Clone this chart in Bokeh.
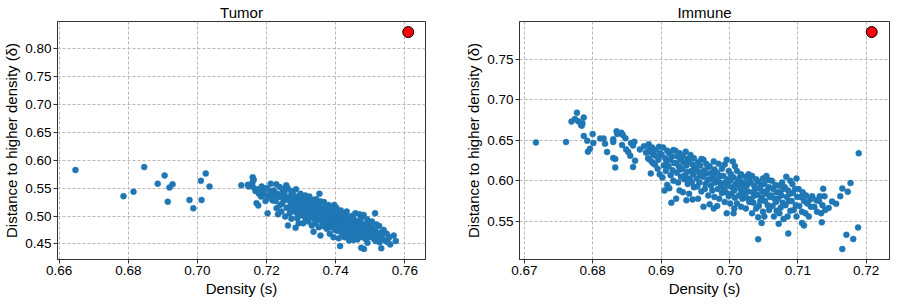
from bokeh.plotting import figure
from bokeh.layouts import row
from bokeh.models import Range1d, FixedTicker, NumeralTickFormatter, ColumnDataSource
from bokeh.embed import file_html
from bokeh.resources import INLINE

# ---------------- data ----------------
panel_titles = ["Tumor", "Immune"]
x_label = "Density (s)"
y_label = "Distance to higher density (δ)"

tumor_density = [
    0.6647, 0.6786, 0.6815, 0.6846, 0.6885, 0.6905, 0.6914, 0.6919, 0.6928, 0.6977,
    0.6988, 0.7010, 0.7012, 0.7024, 0.7035, 0.7127, 0.7146, 0.7148, 0.7160, 0.7159,
    0.7163, 0.7174, 0.7168, 0.7178, 0.7161, 0.7171, 0.7176,
    0.7186, 0.7199, 0.7189, 0.7193, 0.7184, 0.7197, 0.7187,
    0.7212, 0.7202, 0.7215, 0.7210, 0.7205, 0.7218, 0.7203, 0.7214,
    0.7228, 0.7238, 0.7221, 0.7231, 0.7236, 0.7226, 0.7239, 0.7229, 0.7233, 0.7224,
    0.7257, 0.7247, 0.7252, 0.7242, 0.7255, 0.7250, 0.7245, 0.7258, 0.7243, 0.7254, 0.7248, 0.7258,
    0.7261, 0.7271, 0.7276, 0.7266, 0.7279, 0.7269, 0.7273, 0.7264, 0.7277, 0.7267, 0.7272, 0.7262, 0.7275, 0.7270,
    0.7285, 0.7298, 0.7283, 0.7294, 0.7288, 0.7298, 0.7281, 0.7291, 0.7296, 0.7286, 0.7299, 0.7289, 0.7293, 0.7284, 0.7297, 0.7287,
    0.7312, 0.7302, 0.7315, 0.7310, 0.7305, 0.7318, 0.7303, 0.7314, 0.7308, 0.7318, 0.7301, 0.7311, 0.7316, 0.7306, 0.7319, 0.7309, 0.7313,
    0.7324, 0.7337, 0.7327, 0.7332, 0.7322, 0.7335, 0.7330, 0.7325, 0.7338, 0.7323, 0.7334, 0.7328, 0.7338, 0.7321, 0.7331, 0.7336, 0.7326, 0.7339, 0.7329,
    0.7353, 0.7344, 0.7357, 0.7347, 0.7352, 0.7342, 0.7355, 0.7350, 0.7345, 0.7358, 0.7343, 0.7354, 0.7348, 0.7358, 0.7341, 0.7351, 0.7356, 0.7346, 0.7359, 0.7349,
    0.7366, 0.7379, 0.7369, 0.7373, 0.7364, 0.7377, 0.7367, 0.7372, 0.7362, 0.7375, 0.7370, 0.7365, 0.7378, 0.7363, 0.7374, 0.7368, 0.7378, 0.7361, 0.7371,
    0.7396, 0.7386, 0.7399, 0.7389, 0.7393, 0.7384, 0.7397, 0.7387, 0.7392, 0.7382, 0.7395, 0.7390, 0.7385, 0.7398, 0.7383, 0.7394, 0.7388, 0.7398, 0.7381, 0.7391,
    0.7402, 0.7415, 0.7410, 0.7405, 0.7418, 0.7403, 0.7414, 0.7408, 0.7418, 0.7401, 0.7411, 0.7416, 0.7406, 0.7419, 0.7409, 0.7413, 0.7404, 0.7417, 0.7407,
    0.7432, 0.7422, 0.7435, 0.7430, 0.7425, 0.7438, 0.7423, 0.7434, 0.7428, 0.7438, 0.7421, 0.7431, 0.7436, 0.7426, 0.7439, 0.7429, 0.7433, 0.7424,
    0.7457, 0.7447, 0.7452, 0.7442, 0.7455, 0.7450, 0.7445, 0.7458, 0.7443, 0.7454, 0.7448, 0.7458, 0.7441, 0.7451, 0.7456, 0.7446, 0.7459,
    0.7469, 0.7473, 0.7464, 0.7477, 0.7467, 0.7472, 0.7462, 0.7475, 0.7470, 0.7465, 0.7478, 0.7463, 0.7474, 0.7468, 0.7478,
    0.7481, 0.7491, 0.7496, 0.7486, 0.7499, 0.7489, 0.7493, 0.7484, 0.7497, 0.7487, 0.7492, 0.7482, 0.7495, 0.7490,
    0.7505, 0.7518, 0.7503, 0.7514, 0.7508, 0.7518, 0.7501, 0.7511, 0.7516, 0.7514, 0.7506,
    0.7526, 0.7539, 0.7529, 0.7533, 0.7524, 0.7537, 0.7527, 0.7532,
    0.7548, 0.7555, 0.7546, 0.7558, 0.7551,
    0.7568, 0.7574,
]
tumor_delta = [
    0.5826, 0.5356, 0.5436, 0.5878, 0.5580, 0.5728, 0.5258, 0.5511, 0.5568, 0.5287,
    0.5138, 0.5632, 0.5287, 0.5763, 0.5528, 0.5550, 0.5560, 0.5530, 0.5694, 0.5600,
    0.565, 0.548, 0.545, 0.540, 0.552, 0.523, 0.519,
    0.553, 0.550, 0.545, 0.538, 0.535, 0.527, 0.542,
    0.558, 0.549, 0.545, 0.540, 0.536, 0.528, 0.505, 0.531,
    0.557, 0.552, 0.546, 0.540, 0.534, 0.527, 0.520, 0.514, 0.503, 0.538,
    0.555, 0.548, 0.543, 0.539, 0.533, 0.528, 0.522, 0.515, 0.508, 0.499, 0.537, 0.530,
    0.550, 0.545, 0.540, 0.535, 0.530, 0.525, 0.520, 0.515, 0.510, 0.505, 0.495, 0.483, 0.527, 0.512,
    0.548, 0.540, 0.535, 0.530, 0.526, 0.522, 0.518, 0.514, 0.510, 0.506, 0.502, 0.496, 0.487, 0.479, 0.520, 0.508,
    0.537, 0.532, 0.528, 0.524, 0.520, 0.517, 0.514, 0.511, 0.508, 0.505, 0.502, 0.498, 0.494, 0.487, 0.525, 0.515, 0.509,
    0.535, 0.529, 0.525, 0.522, 0.519, 0.516, 0.513, 0.510, 0.507, 0.504, 0.501, 0.498, 0.495, 0.490, 0.483, 0.472, 0.520, 0.512, 0.505,
    0.540, 0.530, 0.526, 0.522, 0.518, 0.515, 0.512, 0.509, 0.506, 0.503, 0.500, 0.497, 0.494, 0.491, 0.487, 0.480, 0.465, 0.515, 0.508, 0.502,
    0.525, 0.520, 0.516, 0.513, 0.510, 0.507, 0.504, 0.501, 0.498, 0.495, 0.492, 0.489, 0.486, 0.482, 0.477, 0.510, 0.503, 0.497, 0.490,
    0.520, 0.515, 0.511, 0.508, 0.505, 0.502, 0.499, 0.496, 0.493, 0.490, 0.487, 0.484, 0.480, 0.475, 0.468, 0.462, 0.505, 0.498, 0.491, 0.485,
    0.515, 0.510, 0.505, 0.501, 0.498, 0.495, 0.492, 0.489, 0.486, 0.483, 0.480, 0.477, 0.473, 0.468, 0.460, 0.446, 0.494, 0.488, 0.481,
    0.508, 0.503, 0.499, 0.495, 0.492, 0.489, 0.486, 0.483, 0.480, 0.477, 0.474, 0.471, 0.467, 0.462, 0.456, 0.490, 0.484, 0.478,
    0.505, 0.500, 0.495, 0.491, 0.487, 0.484, 0.481, 0.478, 0.475, 0.472, 0.469, 0.466, 0.462, 0.457, 0.486, 0.479, 0.473,
    0.503, 0.496, 0.490, 0.486, 0.482, 0.478, 0.475, 0.472, 0.469, 0.466, 0.462, 0.458, 0.443, 0.480, 0.470,
    0.502, 0.494, 0.488, 0.483, 0.479, 0.475, 0.471, 0.467, 0.463, 0.459, 0.452, 0.441, 0.476, 0.468,
    0.490, 0.485, 0.480, 0.475, 0.471, 0.467, 0.463, 0.459, 0.455, 0.505, 0.472,
    0.482, 0.475, 0.470, 0.466, 0.462, 0.458, 0.453, 0.442,
    0.468, 0.462, 0.455, 0.449, 0.453,
    0.465, 0.455,
]

immune_density = [
    0.6717, 0.6761, 0.6769, 0.6777, 0.6774, 0.6779, 0.6783, 0.6785, 0.6787, 0.6784,
    0.6787, 0.6792, 0.6793, 0.6796, 0.6800, 0.6801, 0.6811, 0.6816, 0.6818, 0.6821,
    0.6830, 0.6830, 0.6830, 0.6833, 0.6833, 0.6835, 0.6836, 0.6842, 0.6844, 0.6848,
    0.6843, 0.6849, 0.6852, 0.6855, 0.6856, 0.6859, 0.6861, 0.6859, 0.6862, 0.6869,
    0.6875, 0.6878, 0.6883, 0.6882, 0.6885,
    0.6882, 0.6887, 0.6884, 0.6889, 0.6881, 0.6886, 0.6888,
    0.6897, 0.6892, 0.6899, 0.6894, 0.6896, 0.6891, 0.6898, 0.6895,
    0.6903, 0.6909, 0.6901, 0.6906, 0.6908, 0.6904, 0.6907, 0.6902, 0.6909, 0.6905,
    0.6918, 0.6912, 0.6916, 0.6913, 0.6919, 0.6911, 0.6917, 0.6914, 0.6918, 0.6915, 0.6912,
    0.6921, 0.6927, 0.6924, 0.6929, 0.6922, 0.6926, 0.6928, 0.6923, 0.6929, 0.6925, 0.6927, 0.6922,
    0.6936, 0.6932, 0.6939, 0.6933, 0.6937, 0.6931, 0.6938, 0.6935, 0.6934, 0.6939, 0.6932, 0.6937,
    0.6943, 0.6948, 0.6941, 0.6946, 0.6949, 0.6944, 0.6947, 0.6942, 0.6945, 0.6948, 0.6941, 0.6946,
    0.6959, 0.6954, 0.6957, 0.6951, 0.6955, 0.6958, 0.6952, 0.6956, 0.6953, 0.6959, 0.6954,
    0.6962, 0.6966, 0.6969, 0.6963, 0.6967, 0.6961, 0.6968, 0.6965, 0.6964, 0.6969, 0.6962,
    0.6977, 0.6971, 0.6978, 0.6974, 0.6976, 0.6972, 0.6979, 0.6973, 0.6975, 0.6978, 0.6971, 0.6977,
    0.6984, 0.6989, 0.6982, 0.6987, 0.6981, 0.6986, 0.6988, 0.6983, 0.6989, 0.6985, 0.6982,
    0.6996, 0.6993, 0.6999, 0.6991, 0.6997, 0.6994, 0.6998, 0.6992, 0.6995, 0.6999, 0.6993, 0.6996,
    0.7005, 0.7008, 0.7002, 0.7006, 0.7001, 0.7009, 0.7004, 0.7007, 0.7003, 0.7008, 0.7001, 0.7006, 0.7007,
    0.7011, 0.7017, 0.7015, 0.7013, 0.7019, 0.7012, 0.7016, 0.7018, 0.7014, 0.7019, 0.7011, 0.7017,
    0.7028, 0.7024, 0.7029, 0.7021, 0.7026, 0.7023, 0.7027, 0.7022, 0.7025, 0.7029, 0.7024,
    0.7033, 0.7039, 0.7031, 0.7036, 0.7038, 0.7034, 0.7037, 0.7032, 0.7035, 0.7039, 0.7033,
    0.7049, 0.7042, 0.7046, 0.7044, 0.7048, 0.7041, 0.7047, 0.7045, 0.7043, 0.7049, 0.7042, 0.7042,
    0.7054, 0.7057, 0.7051, 0.7058, 0.7055, 0.7053, 0.7059, 0.7052, 0.7056, 0.7058, 0.7051, 0.7047,
    0.7062, 0.7067, 0.7064, 0.7069, 0.7061, 0.7066, 0.7068, 0.7063, 0.7069, 0.7065,
    0.7077, 0.7072, 0.7079, 0.7074, 0.7076, 0.7071, 0.7078, 0.7075, 0.7073, 0.7079, 0.7072,
    0.7083, 0.7089, 0.7081, 0.7086, 0.7088, 0.7084, 0.7087, 0.7082, 0.7089, 0.7085, 0.7086,
    0.7098, 0.7092, 0.7096, 0.7093, 0.7099, 0.7091, 0.7097, 0.7094, 0.7098,
    0.7101, 0.7107, 0.7104, 0.7109, 0.7102, 0.7106, 0.7106, 0.7109,
    0.7112, 0.7118, 0.7114, 0.7119, 0.7111, 0.7116,
    0.7121, 0.7127, 0.7124, 0.7128,
    0.7132, 0.7136, 0.7134,
    0.7137, 0.7139, 0.7140, 0.7131, 0.7135, 0.7150, 0.7156, 0.7162, 0.7165, 0.7173,
    0.7177, 0.7189, 0.7165, 0.7171, 0.7181, 0.7188, 0.7145,
]
immune_delta = [
    0.6474, 0.6478, 0.6731, 0.6841, 0.6762, 0.6734, 0.6690, 0.6710, 0.6780, 0.6680,
    0.6553, 0.6494, 0.6360, 0.6395, 0.6577, 0.6466, 0.6521, 0.6521, 0.6458, 0.6356,
    0.6513, 0.6480, 0.6281, 0.6270, 0.6166, 0.6612, 0.6577, 0.6592, 0.6565, 0.6525,
    0.6442, 0.6388, 0.6356, 0.6308, 0.6466, 0.6435, 0.6482, 0.6170, 0.6249, 0.6388,
    0.6427, 0.6348, 0.6388, 0.6269, 0.6092,
    0.645, 0.641, 0.636, 0.632, 0.628, 0.624, 0.622,
    0.642, 0.638, 0.634, 0.630, 0.626, 0.620, 0.608, 0.615,
    0.641, 0.637, 0.632, 0.628, 0.624, 0.619, 0.612, 0.604, 0.595, 0.588,
    0.638, 0.634, 0.630, 0.626, 0.622, 0.618, 0.613, 0.607, 0.600, 0.573, 0.591,
    0.637, 0.634, 0.630, 0.626, 0.622, 0.618, 0.614, 0.610, 0.605, 0.598, 0.588, 0.578,
    0.636, 0.631, 0.627, 0.623, 0.619, 0.615, 0.611, 0.607, 0.602, 0.596, 0.586, 0.576,
    0.632, 0.628, 0.624, 0.620, 0.616, 0.612, 0.608, 0.603, 0.598, 0.592, 0.584, 0.577,
    0.627, 0.623, 0.619, 0.615, 0.611, 0.607, 0.603, 0.598, 0.593, 0.587, 0.578,
    0.626, 0.621, 0.617, 0.613, 0.609, 0.605, 0.601, 0.596, 0.590, 0.582, 0.568,
    0.624, 0.618, 0.614, 0.610, 0.606, 0.602, 0.598, 0.594, 0.588, 0.580, 0.571, 0.566,
    0.621, 0.615, 0.610, 0.606, 0.602, 0.598, 0.594, 0.590, 0.585, 0.578, 0.569,
    0.626, 0.620, 0.612, 0.606, 0.602, 0.598, 0.594, 0.590, 0.586, 0.581, 0.574, 0.560,
    0.624, 0.618, 0.608, 0.604, 0.600, 0.596, 0.592, 0.588, 0.584, 0.579, 0.572, 0.560, 0.566,
    0.612, 0.608, 0.604, 0.600, 0.597, 0.594, 0.590, 0.586, 0.582, 0.578, 0.572, 0.568,
    0.608, 0.605, 0.601, 0.598, 0.595, 0.591, 0.587, 0.583, 0.579, 0.574, 0.566,
    0.606, 0.602, 0.598, 0.594, 0.590, 0.586, 0.582, 0.578, 0.573, 0.566, 0.560,
    0.603, 0.599, 0.595, 0.591, 0.587, 0.583, 0.579, 0.575, 0.569, 0.562, 0.555, 0.528,
    0.606, 0.601, 0.596, 0.592, 0.588, 0.584, 0.580, 0.575, 0.570, 0.564, 0.556, 0.548,
    0.600, 0.595, 0.590, 0.586, 0.582, 0.578, 0.574, 0.569, 0.563, 0.556,
    0.598, 0.594, 0.590, 0.586, 0.582, 0.578, 0.573, 0.567, 0.560, 0.553, 0.547,
    0.605, 0.600, 0.592, 0.588, 0.584, 0.580, 0.575, 0.570, 0.563, 0.556, 0.535,
    0.603, 0.596, 0.590, 0.585, 0.580, 0.575, 0.570, 0.564, 0.556,
    0.590, 0.586, 0.580, 0.575, 0.569, 0.562, 0.548, 0.545,
    0.582, 0.577, 0.572, 0.568, 0.560, 0.556,
    0.581, 0.576, 0.568, 0.562,
    0.581, 0.570, 0.560,
    0.5902, 0.5810, 0.5640, 0.5750, 0.5488, 0.5744, 0.5717, 0.5811, 0.5906, 0.5867,
    0.5973, 0.6340, 0.5160, 0.5334, 0.5282, 0.5425, 0.5665,
]

# highlighted (red) cluster centre of each panel
tumor_center = (0.7610, 0.8300)
immune_center = (0.7208, 0.7835)

tumor_xticks = [0.66, 0.68, 0.70, 0.72, 0.74, 0.76]
tumor_yticks = [0.45, 0.50, 0.55, 0.60, 0.65, 0.70, 0.75, 0.80]
immune_xticks = [0.67, 0.68, 0.69, 0.70, 0.71, 0.72]
immune_yticks = [0.55, 0.60, 0.65, 0.70, 0.75]

FONT = "Liberation Sans"


def make_panel(title, xs, ys, center, xr, yr, xticks, yticks, frame_w, border_right):
    p = figure(
        title=title,
        x_range=Range1d(*xr), y_range=Range1d(*yr),
        frame_width=frame_w, frame_height=238,
        output_backend="svg", toolbar_location=None,
        min_border_left=10, min_border_right=border_right,
        min_border_top=0, min_border_bottom=0,
        background_fill_color="white", border_fill_color="white",
    )
    p.title.align = "center"
    p.title.text_font = FONT
    p.title.text_font_size = "15px"
    p.title.text_font_style = "normal"
    p.title.text_color = "black"
    p.title.standoff = 2

    p.outline_line_color = "#333333"
    p.outline_line_width = 1

    for ax in (p.xaxis, p.yaxis):
        ax.axis_line_color = "#333333"
        ax.major_tick_line_color = "#333333"
        ax.major_tick_out = 4
        ax.major_tick_in = 0
        ax.minor_tick_line_color = None
        ax.major_label_text_font = FONT
        ax.major_label_text_font_size = "13.5px"
        ax.major_label_text_color = "black"
        ax.major_label_standoff = 2
        ax.axis_label_text_font = FONT
        ax.axis_label_text_font_size = "15px"
        ax.axis_label_text_font_style = "normal"
        ax.axis_label_text_color = "black"
        ax.axis_label_standoff = 2
        ax.formatter = NumeralTickFormatter(format="0.00")

    p.xaxis.ticker = FixedTicker(ticks=xticks)
    p.yaxis.ticker = FixedTicker(ticks=yticks)
    p.xaxis.axis_label = x_label
    p.yaxis.axis_label = y_label

    for g in (p.xgrid, p.ygrid):
        g.grid_line_color = "#b8b8b8"
        g.grid_line_dash = "3 2"
        g.grid_line_width = 1

    src = ColumnDataSource(dict(x=xs, y=ys))
    p.scatter("x", "y", source=src, size=6, fill_color="#1f77b4",
              line_color="#1f77b4", line_width=0.5)
    p.scatter(x=[center[0]], y=[center[1]], size=11, fill_color="red",
              line_color="black", line_width=1)
    return p


p1 = make_panel(panel_titles[0], tumor_density, tumor_delta, tumor_center,
                (0.6595, 0.7660), (0.4220, 0.8490), tumor_xticks, tumor_yticks, 368, 37)
p2 = make_panel(panel_titles[1], immune_density, immune_delta, immune_center,
                (0.6693, 0.7234), (0.5030, 0.7965), immune_xticks, immune_yticks, 370, 2)

layout = row(p1, p2)
open("out.html", "w").write(file_html(layout, INLINE))
